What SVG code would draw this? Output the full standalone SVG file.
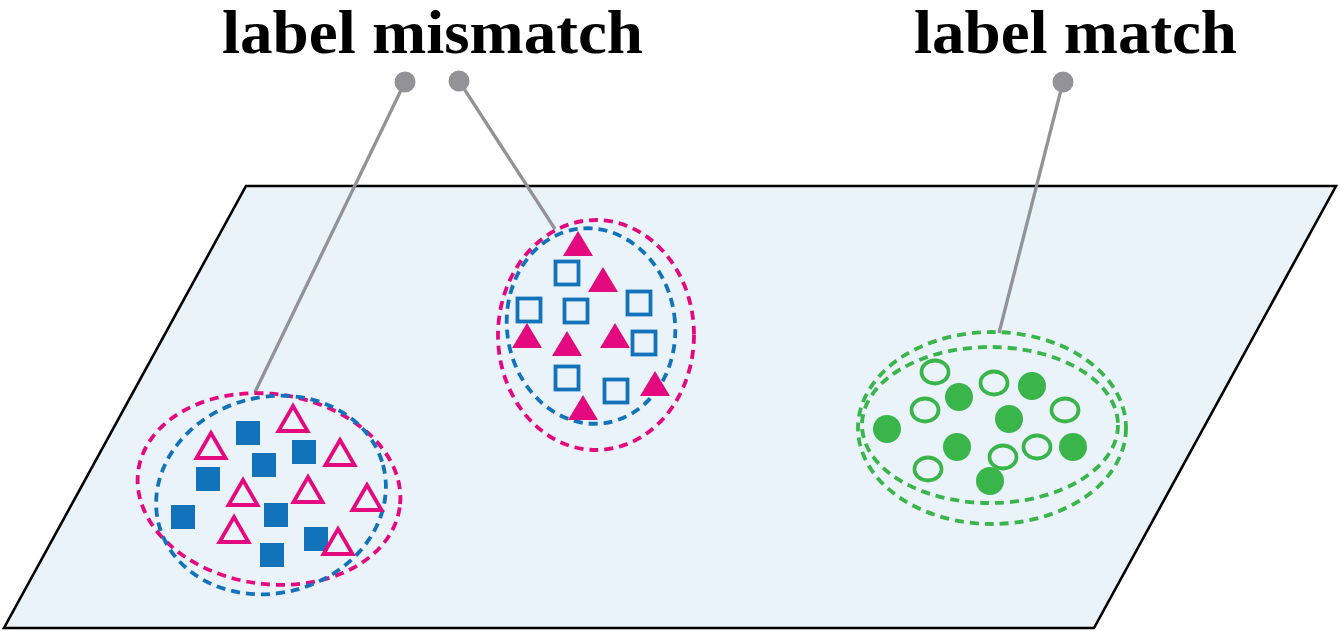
<svg xmlns="http://www.w3.org/2000/svg" width="1340" height="631" viewBox="0 0 1340 631">
<defs>
<style>
.lbl{font-family:"Liberation Serif","DejaVu Serif",serif;font-weight:bold;font-size:61px;fill:#000}
.pm{fill:none;stroke:#e5097f;stroke-width:3.8;stroke-dasharray:9 6}
.pb{fill:none;stroke:#1273bb;stroke-width:3.8;stroke-dasharray:9 6}
.pg{fill:none;stroke:#3ab54a;stroke-width:3.8;stroke-dasharray:9 6}
.fsq{fill:#1273bb}
.osq{fill:none;stroke:#1273bb;stroke-width:3.8}
.otri{fill:none;stroke:#e5097f;stroke-width:3.8;stroke-linejoin:miter}
.ftri{fill:#e5097f}
.fc{fill:#3ab54a}
.oc{fill:none;stroke:#3ab54a;stroke-width:3.8}
.lead{stroke:#929297;stroke-width:3.3;fill:none}
.dot{fill:#929297}
</style>
<rect id="sq" x="-12" y="-12" width="24" height="24"/>
<rect id="osq" x="-11.5" y="-11.5" width="23" height="23"/>
<path id="otri" d="M0,-12 L14.5,13 L-14.5,13 Z"/>
<path id="ftri" d="M0,-13 L15,12 L-15,12 Z"/>
</defs>
<g id="plane">
<path d="M246,186 L1336,186 L1094,628 L4,628 Z" fill="#eaf2fa" stroke="#000" stroke-width="2.6" stroke-linejoin="miter"/>
</g>
<g id="connectors">
<line class="lead" x1="405" y1="82" x2="255" y2="392"/>
<line class="lead" x1="459" y1="81" x2="555" y2="229"/>
<line class="lead" x1="1063" y1="82" x2="999" y2="333"/>
<circle class="dot" cx="405" cy="82" r="10.5"/>
<circle class="dot" cx="459" cy="81" r="10.5"/>
<circle class="dot" cx="1063" cy="82" r="10.5"/>
</g>
<g id="label-mismatch">
<text class="lbl" x="222" y="53" textLength="421" lengthAdjust="spacingAndGlyphs">label mismatch</text>
</g>
<g id="label-match">
<text class="lbl" x="914" y="53" textLength="323" lengthAdjust="spacingAndGlyphs">label match</text>
</g>
<g id="cluster-left">
<ellipse class="pm" cx="269" cy="489" rx="132" ry="95" transform="rotate(8 269 489)"/>
<ellipse class="pb" cx="271" cy="495" rx="116" ry="98" transform="rotate(-15 271 495)"/>
<use href="#sq" class="fsq" x="248" y="433"/>
<use href="#sq" class="fsq" x="304" y="452"/>
<use href="#sq" class="fsq" x="264" y="465"/>
<use href="#sq" class="fsq" x="208" y="479"/>
<use href="#sq" class="fsq" x="183" y="517"/>
<use href="#sq" class="fsq" x="276" y="515"/>
<use href="#sq" class="fsq" x="316" y="539"/>
<use href="#sq" class="fsq" x="272" y="555"/>
<use href="#otri" class="otri" x="293" y="418"/>
<use href="#otri" class="otri" x="211" y="445"/>
<use href="#otri" class="otri" x="340" y="452"/>
<use href="#otri" class="otri" x="243" y="492"/>
<use href="#otri" class="otri" x="308" y="489"/>
<use href="#otri" class="otri" x="367" y="497"/>
<use href="#otri" class="otri" x="234" y="529"/>
<use href="#otri" class="otri" x="338" y="541"/>
</g>
<g id="cluster-middle">
<ellipse class="pm" cx="596" cy="335" rx="98" ry="115"/>
<ellipse class="pb" cx="591" cy="326" rx="84" ry="98" transform="rotate(-8 591 326)"/>
<use href="#osq" class="osq" x="567" y="273"/>
<use href="#osq" class="osq" x="529" y="310"/>
<use href="#osq" class="osq" x="576" y="311"/>
<use href="#osq" class="osq" x="639" y="303"/>
<use href="#osq" class="osq" x="644" y="343"/>
<use href="#osq" class="osq" x="567" y="378"/>
<use href="#osq" class="osq" x="616" y="391"/>
<use href="#ftri" class="ftri" x="578" y="244"/>
<use href="#ftri" class="ftri" x="603" y="280"/>
<use href="#ftri" class="ftri" x="527" y="336"/>
<use href="#ftri" class="ftri" x="567" y="344"/>
<use href="#ftri" class="ftri" x="615" y="336"/>
<use href="#ftri" class="ftri" x="655" y="384"/>
<use href="#ftri" class="ftri" x="583" y="408"/>
</g>
<g id="cluster-right">
<ellipse class="pg" cx="992" cy="428" rx="134" ry="96"/>
<ellipse class="pg" cx="990" cy="425" rx="128" ry="78"/>
<circle class="fc" cx="887" cy="429" r="14"/>
<circle class="fc" cx="959" cy="397" r="14"/>
<circle class="fc" cx="1032" cy="386" r="14"/>
<circle class="fc" cx="1009" cy="419" r="14"/>
<circle class="fc" cx="957" cy="447" r="14"/>
<circle class="fc" cx="1073" cy="447" r="14"/>
<circle class="fc" cx="990" cy="481" r="14"/>
<ellipse class="oc" cx="935" cy="372" rx="13.5" ry="11.5"/>
<ellipse class="oc" cx="994" cy="383" rx="13.5" ry="11.5"/>
<ellipse class="oc" cx="925" cy="410" rx="13.5" ry="11.5"/>
<ellipse class="oc" cx="1065" cy="410" rx="13.5" ry="11.5"/>
<ellipse class="oc" cx="1037" cy="447" rx="13.5" ry="11.5"/>
<ellipse class="oc" cx="1003" cy="457" rx="13.5" ry="11.5"/>
<ellipse class="oc" cx="928" cy="469" rx="13.5" ry="11.5"/>
</g>
</svg>
